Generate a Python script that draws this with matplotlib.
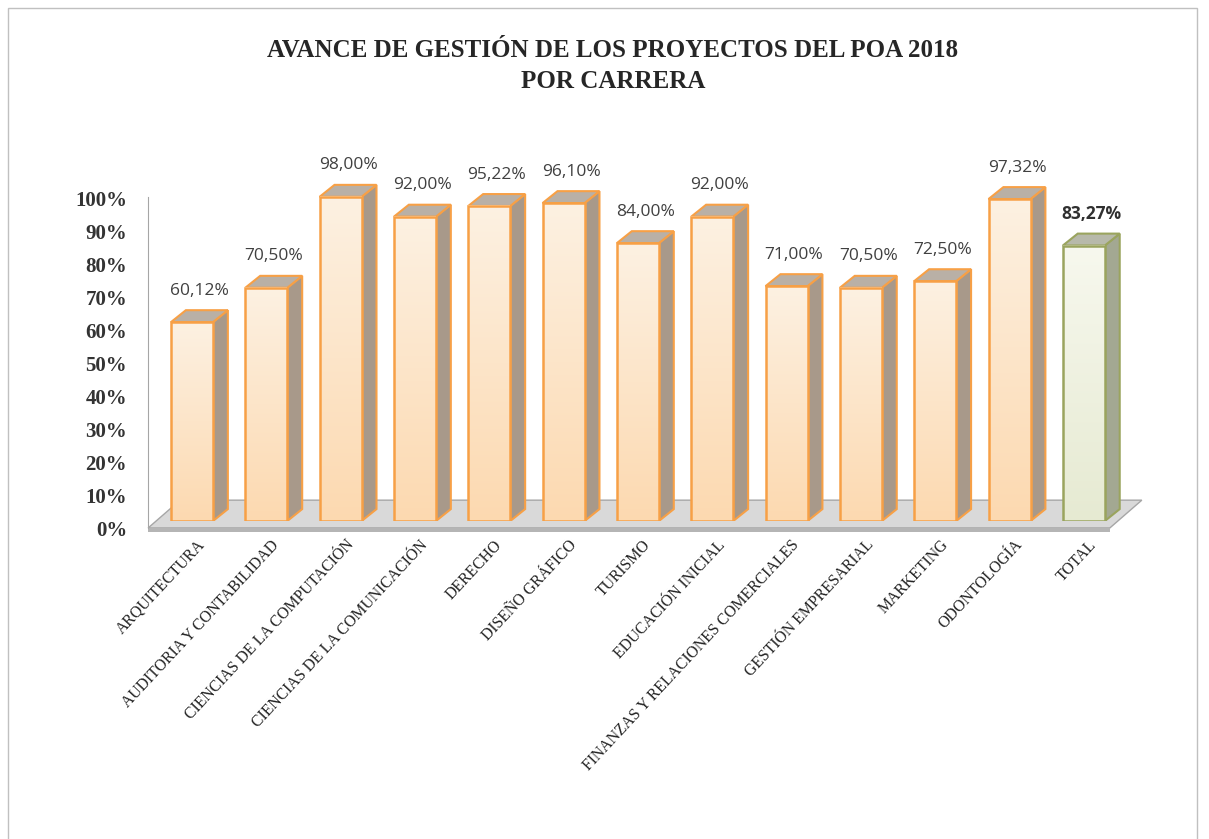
import numpy as np
import matplotlib.pyplot as plt
import matplotlib.transforms as mtransforms
from matplotlib.patches import Polygon, Rectangle
from matplotlib.colors import LinearSegmentedColormap

# -------- DATA --------
categories = ["ARQUITECTURA", "AUDITORIA Y CONTABILIDAD", "CIENCIAS DE LA COMPUTACIÓN",
              "CIENCIAS DE LA COMUNICACIÓN", "DERECHO", "DISEÑO GRÁFICO", "TURISMO",
              "EDUCACIÓN INICIAL", "FINANZAS Y RELACIONES COMERCIALES",
              "GESTIÓN EMPRESARIAL", "MARKETING", "ODONTOLOGÍA", "TOTAL"]
values = [60.12, 70.50, 98.00, 92.00, 95.22, 96.10, 84.00, 92.00, 71.00, 70.50, 72.50, 97.32, 83.27]
yticks = [0, 10, 20, 30, 40, 50, 60, 70, 80, 90, 100]
title = "AVANCE DE GESTIÓN DE LOS PROYECTOS DEL POA 2018\nPOR CARRERA"

# -------- STYLE --------
W, H = 1209, 839
serif = "Liberation Serif"
orange_cmap = LinearSegmentedColormap.from_list("o", ["#fdf1e2", "#fcd9b0"])
green_cmap = LinearSegmentedColormap.from_list("g", ["#f7f8ee", "#e6ead2"])
bar_w = 0.565
dx, dy = 0.2, 3.6   # depth of the 3d look

fig = plt.figure(figsize=(W / 100, H / 100), dpi=100)
ax = fig.add_axes([148 / W, (H - 521) / H, 1002 / W, 397 / H])

# floor
x_lo, x_hi = -0.59, 12.35
floor = Polygon([(x_lo, -2.1), (x_hi, -2.1), (x_hi + 0.43, 6.3), (x_lo + 0.43, 6.3)],
                closed=True, fc="#d9d9d9", ec="#a6a6a6", lw=1, zorder=1, clip_on=False)
ax.add_patch(floor)
ax.add_patch(Rectangle((x_lo, -3.4), x_hi - x_lo, 1.3, fc="#b5b5b5", ec="none",
                       zorder=1, clip_on=False))

for i, v in enumerate(values):
    total = categories[i] == "TOTAL"
    edge = "#9aa45e" if total else "#f7a046"
    side = "#a3a892" if total else "#a8998a"
    top = "#b7b9aa" if total else "#b9b0a6"
    cmap = green_cmap if total else orange_cmap
    x0 = i - bar_w / 2
    x1 = i + bar_w / 2

    ax.add_patch(Polygon([(x1, 0), (x1 + dx, dy), (x1 + dx, v + dy), (x1, v)],
                         closed=True, fc=side, ec=edge, lw=1.5, zorder=2))
    ax.add_patch(Polygon([(x0, v), (x1, v), (x1 + dx, v + dy), (x0 + dx, v + dy)],
                         closed=True, fc=top, ec=edge, lw=1.5, zorder=2))
    grad = np.linspace(0, 1, 256).reshape(-1, 1)
    ax.imshow(grad, extent=(x0, x1, 0, v), aspect="auto", cmap=cmap, zorder=3)
    ax.add_patch(Rectangle((x0, 0), bar_w, v, fc="none", ec=edge, lw=1.8, zorder=4))

    lbl = f"{v:.2f}%".replace(".", ",")
    ax.text(i + 0.1, v + 9.5, lbl, ha="center", va="center", fontsize=12.5,
            family="Open Sans", color="#303030" if total else "#404040",
            fontweight="bold" if total else "normal")

    ax.text(i + 0.14, -6.5, categories[i], rotation=47, rotation_mode="anchor",
            ha="right", va="center", fontsize=11.3, family=serif, color="#222222")

ax.set_xlim(-0.592, 12.89)
ax.set_ylim(0, 120)
ax.set_xticks([])
ax.set_yticks(yticks)
ax.set_yticklabels([f"{t}%" for t in yticks], fontsize=15, family=serif,
                   fontweight="bold", color="#333333")
ax.tick_params(axis="y", length=0, pad=15)
offset = mtransforms.ScaledTranslation(0, -8 / 100, fig.dpi_scale_trans)
for lab in ax.get_yticklabels():
    lab.set_transform(lab.get_transform() + offset)

for s in ["top", "right", "bottom"]:
    ax.spines[s].set_visible(False)
ax.spines["left"].set_color("#a6a6a6")
ax.spines["left"].set_bounds(-2, 98)
ax.patch.set_alpha(0)

fig.text(613 / W, 1 - 66 / H, title, ha="center", va="center", fontsize=18,
         fontweight="bold", family=serif, color="#262626", linespacing=1.45)

fig.add_artist(Rectangle((8 / W, -0.01), 1189 / W, 1 - 8 / H + 0.01,
                         transform=fig.transFigure, fill=False, ec="#c0c0c0", lw=1))

fig.savefig("out.png", dpi=100)
